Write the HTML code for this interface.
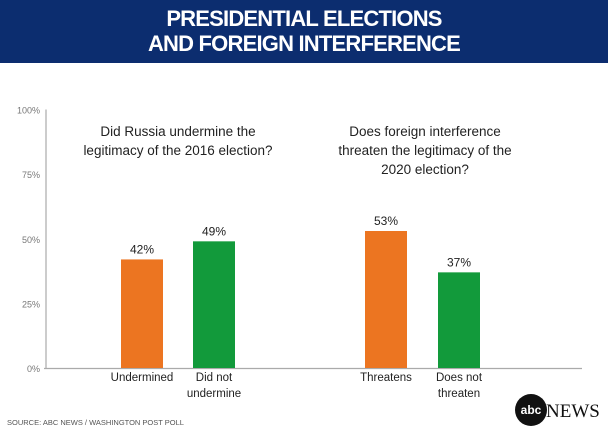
<!DOCTYPE html>
<html><head><meta charset="utf-8"><style>
body{margin:0;width:608px;height:430px;background:#fff;overflow:hidden;font-family:"Liberation Sans",sans-serif}
#hdr{position:absolute;left:0;top:0;width:608px;height:63px;background:#0c2d6f;color:#fff;text-align:center;font-weight:bold;font-size:22px;line-height:25px;padding-top:6px;box-sizing:border-box;letter-spacing:-0.8px}
</style></head><body>
<div id="hdr">PRESIDENTIAL ELECTIONS<br>AND FOREIGN INTERFERENCE</div>
<svg id="c" width="608" height="430" style="position:absolute;left:0;top:0"></svg>
<script>
const categories=["Undermined","Did not undermine","Threatens","Does not threaten"];
const values=[42,49,53,37];
const colors=["#ec7521","#129a3b","#ec7521","#129a3b"];
const ticks=[0,25,50,75,100];
const barLeft=[121,193,365,438];
const svg=document.getElementById('c');const NS="http://www.w3.org/2000/svg";
function y(v){return 368-v*2.585;}
function mk(t,a,txt){const e=document.createElementNS(NS,t);for(const k in a)e.setAttribute(k,a[k]);if(txt!=null)e.textContent=txt;svg.appendChild(e);return e;}
let ax=mk('line',{x1:46,x2:46,y1:y(100),y2:368,stroke:'#999','stroke-width':1});

ticks.forEach(t=>{
 const l=mk('text',{x:40,y:y(t)+4,'text-anchor':'end','font-size':9,fill:'#777'},t+'%');
 
});
let bx=mk('line',{x1:44,x2:582,y1:368.5,y2:368.5,stroke:'#aaa','stroke-width':1.2});

values.forEach((v,i)=>{
 const r=mk('rect',{x:barLeft[i],y:y(v),width:42,height:368-y(v),fill:colors[i]});
 
 const t=mk('text',{x:barLeft[i]+21,y:y(v)-6,'text-anchor':'middle','font-size':12,fill:'#222'},v+'%');
 
});
const catLines=[["Undermined"],["Did not","undermine"],["Threatens"],["Does not","threaten"]];
catLines.forEach((ls,i)=>ls.forEach((s,j)=>{
 const t=mk('text',{x:barLeft[i]+21,y:381+j*16,'text-anchor':'middle','font-size':11.5,fill:'#222'},s);
 
}));
["Did Russia undermine the","legitimacy of the 2016 election?"].forEach((s,j)=>{
 const t=mk('text',{x:178,y:136+j*19,'text-anchor':'middle','font-size':13.5,fill:'#222'},s);
 
});
["Does foreign interference","threaten the legitimacy of the","2020 election?"].forEach((s,j)=>{
 const t=mk('text',{x:425,y:136+j*19,'text-anchor':'middle','font-size':13.5,fill:'#222'},s);
 
});
let src=mk('text',{x:7,y:425,'font-size':7.5,fill:'#555'},'SOURCE: ABC NEWS / WASHINGTON POST POLL');

let lc=mk('circle',{cx:531,cy:410,r:16,fill:'#111'});

let lt=mk('text',{x:531,y:414,'text-anchor':'middle','font-size':12,'font-weight':'bold',fill:'#fff'},'abc');

let nw=mk('text',{x:546,y:417,'font-family':'Liberation Serif, serif','font-size':19,fill:'#111'},'NEWS');

</script>
</body></html>
